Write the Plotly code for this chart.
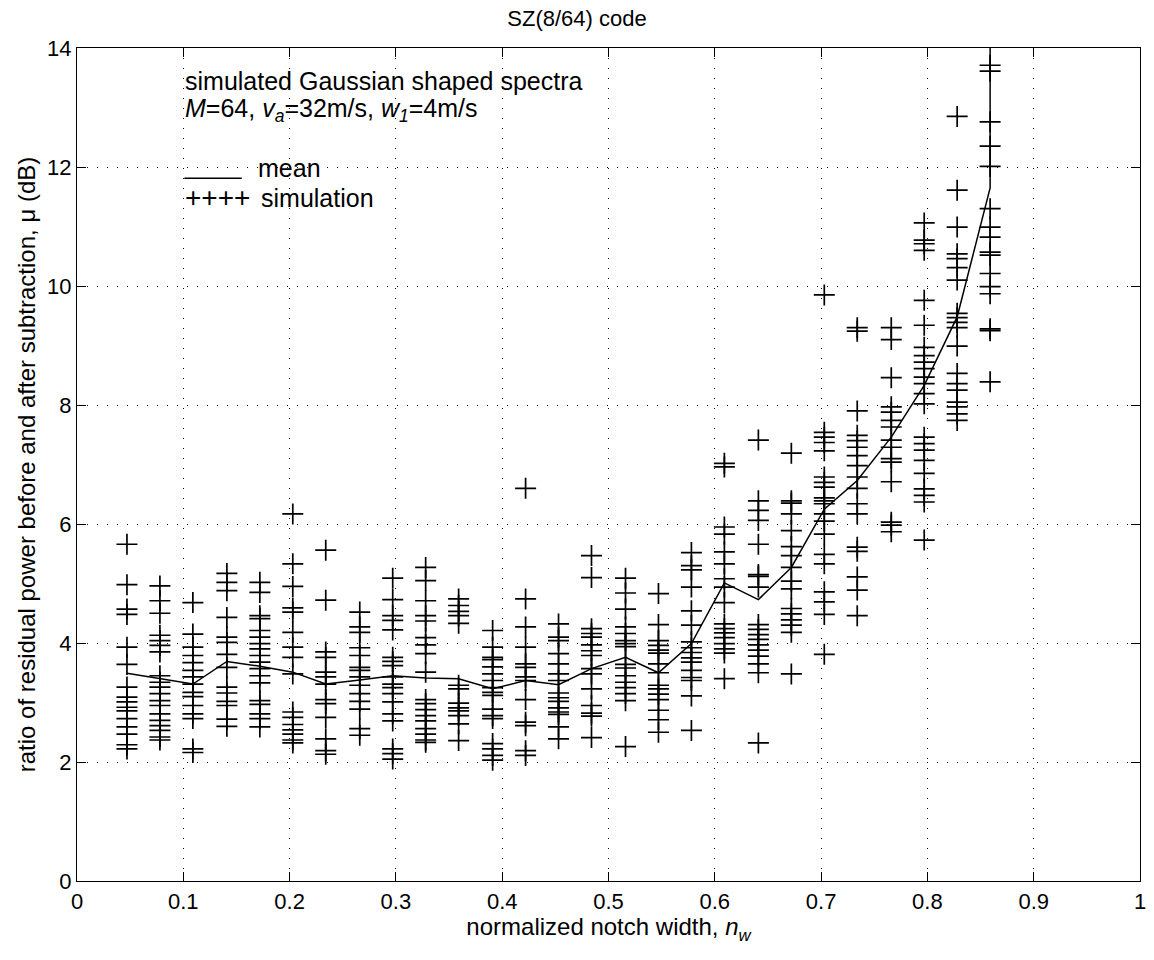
import plotly.graph_objects as go

# ---- data ----
notch_width = [0.047, 0.078, 0.109, 0.141, 0.172, 0.203, 0.234, 0.266, 0.297,
               0.328, 0.359, 0.391, 0.422, 0.453, 0.484, 0.516, 0.547, 0.578,
               0.609, 0.641, 0.672, 0.703, 0.734, 0.766, 0.797, 0.828, 0.859]

mean_ratio = [3.49, 3.40, 3.31, 3.69, 3.61, 3.51, 3.31, 3.38, 3.45,
              3.41, 3.40, 3.23, 3.37, 3.30, 3.57, 3.76, 3.50, 3.99,
              5.01, 4.73, 5.27, 6.25, 6.73, 7.46, 8.33, 9.48, 11.65]
# the mean curve shoots off the top of the axes at the last notch width
mean_tail_x = [0.859]
mean_tail_y = [30.0]

sim_values = [
    [5.66, 4.98, 4.57, 4.48, 3.93, 3.64, 3.26, 3.09, 3.01, 2.92, 2.86, 2.73, 2.59, 2.47, 2.29, 2.22],
    [4.96, 4.71, 4.50, 4.13, 4.04, 3.96, 3.85, 3.45, 3.34, 3.26, 3.15, 3.03, 2.95, 2.81, 2.70, 2.61, 2.53, 2.42, 2.37],
    [4.68, 4.15, 3.93, 3.79, 3.67, 3.54, 3.43, 3.31, 3.17, 3.10, 2.95, 2.81, 2.73, 2.22, 2.16],
    [5.17, 5.02, 4.88, 4.43, 4.10, 4.01, 3.81, 3.59, 3.26, 3.16, 3.02, 2.95, 2.72, 2.60],
    [5.02, 4.85, 4.46, 4.41, 4.21, 4.10, 3.99, 3.90, 3.79, 3.68, 3.57, 3.45, 3.33, 3.03, 2.97, 2.81, 2.73, 2.59],
    [6.17, 5.33, 4.95, 4.59, 4.52, 4.18, 3.93, 3.76, 3.48, 2.84, 2.75, 2.63, 2.54, 2.47, 2.37, 2.32],
    [5.56, 4.72, 3.85, 3.76, 3.51, 3.43, 3.31, 3.05, 2.98, 2.75, 2.39, 2.19, 2.13],
    [4.52, 4.27, 4.18, 3.92, 3.79, 3.59, 3.54, 3.43, 3.29, 3.15, 3.02, 2.89, 2.56, 2.45],
    [5.09, 4.73, 4.46, 4.38, 4.22, 3.76, 3.69, 3.62, 3.43, 3.31, 3.25, 3.15, 3.01, 2.81, 2.69, 2.22, 2.14, 2.05],
    [5.27, 5.05, 4.71, 4.46, 4.37, 4.09, 3.97, 3.82, 3.51, 3.05, 2.98, 2.88, 2.78, 2.69, 2.56, 2.47, 2.37, 2.33],
    [4.74, 4.63, 4.53, 4.46, 4.33, 3.29, 3.23, 2.99, 2.91, 2.86, 2.78, 2.64, 2.36],
    [4.21, 3.93, 3.76, 3.72, 3.60, 3.48, 3.37, 3.25, 3.17, 3.12, 2.89, 2.78, 2.73, 2.31, 2.22, 2.11, 2.03],
    [6.60, 4.74, 4.27, 3.93, 3.65, 3.59, 3.43, 3.37, 3.05, 2.67, 2.61, 2.19, 2.11],
    [4.32, 4.10, 4.04, 3.82, 3.65, 3.48, 3.37, 3.16, 3.08, 3.02, 2.91, 2.84, 2.80, 2.59, 2.39],
    [5.47, 5.10, 4.24, 4.16, 4.10, 3.97, 3.87, 3.79, 3.57, 3.48, 3.23, 2.95, 2.82, 2.77, 2.41],
    [5.09, 4.84, 4.57, 4.27, 4.16, 4.04, 3.99, 3.94, 3.64, 3.58, 3.45, 3.34, 3.25, 3.15, 3.03, 2.26],
    [4.83, 4.31, 4.04, 3.96, 3.88, 3.83, 3.65, 3.50, 3.29, 3.23, 3.14, 3.05, 2.87, 2.71, 2.50],
    [5.52, 5.30, 5.23, 4.94, 4.54, 4.30, 4.02, 3.92, 3.84, 3.75, 3.68, 3.54, 3.42, 3.37, 3.11, 2.53],
    [7.02, 6.96, 5.95, 5.83, 5.53, 5.33, 5.08, 4.94, 4.68, 4.32, 4.24, 4.17, 4.09, 3.99, 3.90, 3.83, 3.40],
    [7.41, 6.39, 6.23, 6.06, 5.66, 5.15, 5.12, 4.94, 4.31, 4.23, 4.14, 4.06, 3.97, 3.88, 3.78, 3.65, 3.50, 2.32],
    [7.19, 6.39, 6.35, 6.17, 5.89, 5.62, 5.47, 5.27, 5.04, 4.91, 4.58, 4.49, 4.39, 4.30, 4.18, 3.48],
    [9.85, 7.54, 7.46, 7.37, 7.23, 6.79, 6.70, 6.62, 6.44, 6.39, 6.34, 6.17, 6.05, 5.83, 5.49, 5.33, 4.86, 4.69, 4.48, 3.81],
    [9.30, 9.24, 7.90, 7.49, 7.40, 7.29, 7.15, 6.98, 6.79, 6.60, 6.34, 6.17, 5.61, 5.54, 5.11, 4.89, 4.46],
    [9.30, 9.10, 8.46, 7.97, 7.88, 7.74, 7.63, 7.41, 7.29, 7.10, 7.04, 6.71, 6.03, 5.98, 5.87],
    [11.06, 10.77, 10.71, 10.60, 9.76, 9.34, 8.97, 8.83, 8.72, 8.61, 8.47, 8.36, 8.19, 8.02,
     7.46, 7.35, 7.24, 7.07, 6.85, 6.59, 6.48, 6.37, 5.73],
    [12.85, 11.61, 10.99, 10.54, 10.46, 10.31, 10.10, 9.54, 9.47, 9.39, 9.30, 8.99, 8.53, 8.36,
     8.25, 8.05, 7.97, 7.85, 7.74],
    [13.71, 13.61, 12.76, 12.35, 12.01, 11.30, 10.99, 10.82, 10.57, 10.52, 10.21, 9.99, 9.87,
     9.28, 9.25, 8.39],
]

x_ticks = [0, 0.1, 0.2, 0.3, 0.4, 0.5, 0.6, 0.7, 0.8, 0.9, 1]
x_tick_labels = ["0", "0.1", "0.2", "0.3", "0.4", "0.5", "0.6", "0.7", "0.8", "0.9", "1"]
y_ticks = [0, 2, 4, 6, 8, 10, 12, 14]
y_tick_labels = ["0", "2", "4", "6", "8", "10", "12", "14"]

# ---- build figure ----
sim_x, sim_y = [], []
for xv, col in zip(notch_width, sim_values):
    for v in col:
        sim_x.append(xv)
        sim_y.append(v)

FONT = "Liberation Sans, Arial, Helvetica, sans-serif"
TICK = 22
TXT = 24
ANN = 25

fig = go.Figure()
fig.add_trace(go.Scatter(
    x=sim_x, y=sim_y, mode="markers",
    marker=dict(symbol="cross-thin", size=15, color="black",
                line=dict(color="black", width=1.7)),
    showlegend=False, cliponaxis=True))
fig.add_trace(go.Scatter(
    x=notch_width + mean_tail_x, y=mean_ratio + mean_tail_y, mode="lines",
    line=dict(color="black", width=1.5), showlegend=False))

axis_common = dict(
    showline=True, linecolor="black", linewidth=1.2, mirror="ticks",
    ticks="inside", ticklen=9, tickwidth=1, tickcolor="black",
    showgrid=True, gridcolor="black", gridwidth=1, griddash="1px,9px",
    zeroline=False, tickfont=dict(family=FONT, size=TICK, color="black"),
)

fig.update_xaxes(range=[0, 1], tickvals=x_ticks, ticktext=x_tick_labels,
                 title=dict(text="normalized notch width, <i>n</i><sub><i>w</i></sub>",
                            font=dict(family=FONT, size=TXT, color="black"), standoff=4),
                 **axis_common)
fig.update_yaxes(range=[0, 14], tickvals=y_ticks, ticktext=y_tick_labels,
                 title=dict(text="ratio of residual power before and after subtraction, \u03bc (dB)",
                            font=dict(family=FONT, size=TXT, color="black"), standoff=4),
                 **axis_common)

fig.update_layout(
    width=1154, height=960,
    margin=dict(l=77, r=8, t=48, b=79),
    plot_bgcolor="white", paper_bgcolor="white",
    font=dict(family=FONT, color="black"),
    title=dict(text="SZ(8/64) code", x=0.5, xanchor="center", y=0.981, yanchor="middle",
               font=dict(family=FONT, size=TXT - 2, color="black")),
    annotations=[
        dict(x=0.1, y=13.44, xref="x", yref="y", xanchor="left", yanchor="middle",
             text="simulated Gaussian shaped spectra", showarrow=False,
             font=dict(family=FONT, size=ANN, color="black")),
        dict(x=0.1, y=12.96, xref="x", yref="y", xanchor="left", yanchor="middle",
             text="<i>M</i>=64, <i>v</i><sub><i>a</i></sub>=32m/s, <i>w</i><sub><i>1</i></sub>=4m/s",
             showarrow=False, font=dict(family=FONT, size=ANN, color="black")),
        dict(x=0.1, y=11.48, xref="x", yref="y", xanchor="left", yanchor="middle",
             text="++++", showarrow=False, font=dict(family=FONT, size=28, color="black")),
        dict(x=0.168, y=11.98, xref="x", yref="y", xanchor="left", yanchor="middle",
             text="mean", showarrow=False, font=dict(family=FONT, size=ANN, color="black")),
        dict(x=0.171, y=11.48, xref="x", yref="y", xanchor="left", yanchor="middle",
             text="simulation", showarrow=False, font=dict(family=FONT, size=ANN, color="black")),
    ],
    shapes=[
        dict(type="line", xref="x", yref="y", x0=0.101, x1=0.155, y0=11.81, y1=11.81,
             line=dict(color="black", width=1.5)),
    ],
)

fig.write_html("out.html")
